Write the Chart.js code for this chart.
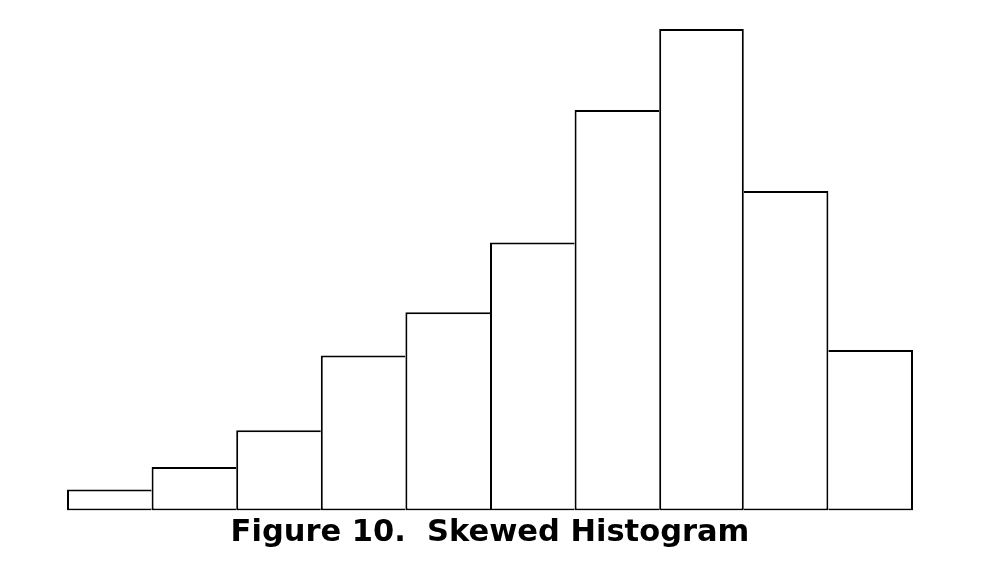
<!DOCTYPE html>
<html>
<head>
<meta charset="utf-8">
<script src="https://cdn.jsdelivr.net/npm/chart.js@4.4.0/dist/chart.umd.min.js"></script>
<style>
  html, body { margin: 0; padding: 0; background: #fff; }
  #wrap { width: 991px; height: 577px; }
</style>
</head>
<body>
<div id="wrap"><canvas id="histChart"></canvas></div>
<script>
// bins of the histogram, frequencies
const bins = ['1', '2', '3', '4', '5', '6', '7', '8', '9', '10'];
const counts = [2.6, 5.4, 10, 19.3, 24.7, 33.4, 49.9, 60, 39.8, 20];
const titleText = 'Figure 10.  Skewed Histogram';

const ctx = document.getElementById('histChart').getContext('2d');
const last = counts.length - 1;

// shared edges are drawn once, by the taller of the two bars
function sides(c) {
    const i = c.dataIndex;
    const v = counts[i];
    return {
        top: 2,
        bottom: 2,
        left: (i === 0 || v >= counts[i - 1]) ? 2 : 0,
        right: (i === last || v > counts[i + 1]) ? 2 : 0
    };
}

new Chart(ctx, {
    type: 'bar',
    data: {
        labels: bins,
        datasets: [{
            data: counts,
            backgroundColor: '#ffffff',
            borderColor: '#000000',
            borderSkipped: false,
            borderWidth: sides,
            categoryPercentage: 1,
            barPercentage: 1,
            inflateAmount: 0
        }]
    },
    options: {
        responsive: true,
        maintainAspectRatio: false,
        animation: false,
        layout: { padding: { left: 67, right: 78, top: 29, bottom: 26 } },
        plugins: {
            legend: { display: false },
            tooltip: { enabled: false },
            title: {
                display: true,
                position: 'bottom',
                text: titleText,
                color: '#000',
                font: { family: 'DejaVu Sans', size: 30.5, weight: 'bold' },
                padding: { top: 4, bottom: 0 }
            }
        },
        scales: {
            x: { display: false },
            y: { display: false, min: 0, max: 60 }
        }
    }
});
</script>
</body>
</html>
